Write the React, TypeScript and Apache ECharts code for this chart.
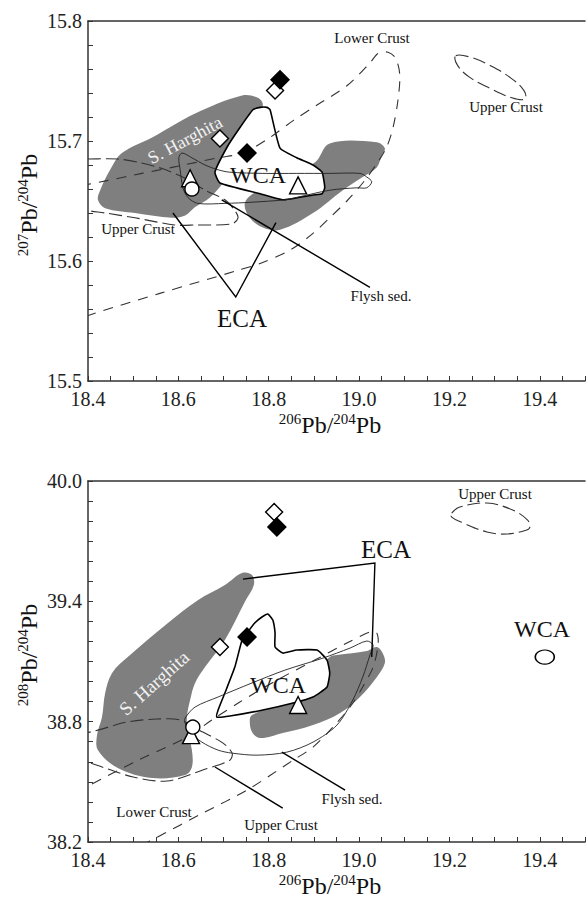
import React, { useEffect, useRef } from "react";
import * as echarts from "echarts";

const FONT = '"Liberation Serif", "Times New Roman", serif';

// ---------------- Axis settings ----------------
const xMin = 18.4;
const xMax = 19.5;
const xTickStep = 0.05;
const xLabelStep = 0.2;
const topYMin = 15.5;
const topYMax = 15.8;
const topYTickStep = 0.02;
const topYLabelStep = 0.1;
const botYMin = 38.2;
const botYMax = 40.0;
const botYTickStep = 0.1;
const botYLabelStep = 0.6;

// ---------------- Top panel (207Pb/204Pb) ----------------
const topSHarghita = [[18.741,15.738],[18.776,15.736],[18.787,15.730],[18.769,15.709],[18.736,15.688],[18.703,15.667],[18.670,15.653],[18.637,15.645],[18.615,15.638],[18.586,15.636],[18.504,15.640],[18.438,15.644],[18.422,15.651],[18.427,15.659],[18.449,15.676],[18.475,15.690],[18.542,15.703],[18.637,15.723]];
const topECA = [[18.935,15.698],[19.039,15.699],[19.057,15.694],[19.050,15.688],[19.039,15.678],[19.008,15.670],[18.964,15.659],[18.898,15.640],[18.825,15.626],[18.787,15.628],[18.758,15.636],[18.747,15.648],[18.769,15.657],[18.825,15.667],[18.902,15.682]];
const topWCA = [[18.765,15.726],[18.781,15.728],[18.796,15.728],[18.803,15.726],[18.825,15.694],[18.862,15.686],[18.898,15.680],[18.918,15.674],[18.924,15.661],[18.918,15.656],[18.898,15.655],[18.831,15.651],[18.781,15.656],[18.692,15.665],[18.681,15.674],[18.708,15.695],[18.736,15.711]];
const topFlysh = [[18.608,15.690],[18.630,15.686],[18.659,15.680],[18.688,15.676],[18.714,15.674],[18.787,15.673],[18.862,15.673],[18.935,15.673],[19.002,15.673],[19.017,15.670],[19.028,15.666],[19.017,15.661],[18.995,15.661],[18.935,15.659],[18.862,15.653],[18.836,15.651],[18.763,15.649],[18.703,15.648],[18.643,15.648],[18.621,15.653],[18.610,15.661],[18.604,15.676],[18.601,15.686]];
const topLowerCrust = [[18.360,15.548],[18.404,15.555],[18.559,15.573],[18.730,15.592],[18.781,15.598],[18.847,15.609],[18.898,15.623],[18.935,15.636],[18.973,15.650],[19.008,15.665],[19.039,15.681],[19.061,15.695],[19.075,15.711],[19.086,15.734],[19.090,15.755],[19.081,15.769],[19.064,15.774],[19.042,15.773],[19.024,15.765],[18.973,15.746],[18.907,15.730],[18.854,15.717],[18.803,15.703],[18.743,15.690],[18.688,15.686],[18.586,15.678],[18.519,15.673],[18.442,15.667],[18.360,15.661]];
const topUpperCrustL = [[18.360,15.685],[18.400,15.685],[18.466,15.685],[18.515,15.682],[18.564,15.677],[18.615,15.669],[18.659,15.659],[18.703,15.651],[18.725,15.642],[18.732,15.636],[18.719,15.631],[18.637,15.630],[18.592,15.630],[18.504,15.636],[18.438,15.640],[18.400,15.642],[18.360,15.645]];
const topUpperCrustR = [[19.214,15.771],[19.245,15.770],[19.289,15.763],[19.334,15.753],[19.365,15.742],[19.367,15.735],[19.338,15.736],[19.289,15.744],[19.245,15.753],[19.218,15.763]];
const topECALeader = [[18.588,15.640],[18.727,15.570],[18.816,15.632]];
const topFlyshLeader = [[18.696,15.651],[19.024,15.578]];
const topFilledDiamonds = [[18.825,15.751],[18.752,15.690]];
const topOpenDiamonds = [[18.814,15.742],[18.692,15.702]];
const topTriangles = [[18.626,15.669],[18.865,15.663]];
const topCircles = [[18.630,15.660]];

// ---------------- Bottom panel (208Pb/204Pb) ----------------
const botSHarghita = [[18.741,39.541],[18.763,39.531],[18.767,39.481],[18.747,39.397],[18.703,39.207],[18.659,39.072],[18.637,38.993],[18.626,38.908],[18.619,38.823],[18.621,38.743],[18.630,38.658],[18.630,38.574],[18.615,38.534],[18.542,38.519],[18.466,38.569],[18.422,38.658],[18.420,38.733],[18.431,38.823],[18.438,38.943],[18.453,39.042],[18.488,39.122],[18.577,39.292],[18.643,39.406],[18.703,39.481]];
const botECA = [[18.951,39.132],[19.017,39.152],[19.039,39.172],[19.052,39.142],[19.057,39.092],[19.039,39.022],[19.002,38.923],[18.958,38.843],[18.898,38.783],[18.831,38.743],[18.781,38.718],[18.763,38.748],[18.758,38.808],[18.763,38.833],[18.836,38.908],[18.891,38.983],[18.913,39.067],[18.935,39.122]];
const botWCA = [[18.769,39.292],[18.785,39.322],[18.798,39.337],[18.809,39.307],[18.814,39.242],[18.814,39.172],[18.831,39.142],[18.862,39.157],[18.907,39.157],[18.929,39.107],[18.935,39.042],[18.929,38.973],[18.898,38.923],[18.854,38.893],[18.787,38.858],[18.714,38.828],[18.685,38.823],[18.688,38.858],[18.703,38.943],[18.725,39.072],[18.741,39.207],[18.752,39.242]];
const botFlysh = [[18.615,38.818],[18.637,38.873],[18.688,38.923],[18.763,38.993],[18.836,39.057],[18.920,39.117],[18.980,39.167],[19.017,39.202],[19.031,39.182],[19.024,39.132],[19.008,39.022],[18.986,38.908],[18.951,38.783],[18.898,38.698],[18.840,38.648],[18.774,38.633],[18.719,38.643],[18.688,38.658],[18.652,38.698],[18.626,38.748],[18.615,38.793]];
const botLowerCrust = [[18.338,38.409],[18.404,38.484],[18.511,38.608],[18.619,38.723],[18.674,38.808],[18.736,38.898],[18.818,39.007],[18.902,39.107],[18.973,39.192],[19.024,39.247],[19.039,39.242],[19.042,39.182],[19.031,39.072],[19.008,38.973],[18.980,38.873],[18.942,38.773],[18.898,38.673],[18.854,38.608],[18.752,38.459],[18.654,38.344],[18.553,38.224],[18.515,38.179]];
const botUpperCrustL = [[18.338,38.733],[18.404,38.748],[18.486,38.798],[18.553,38.813],[18.604,38.808],[18.654,38.748],[18.699,38.693],[18.719,38.643],[18.714,38.608],[18.654,38.559],[18.575,38.504],[18.500,38.524],[18.404,38.594],[18.338,38.633]];
const botUpperCrustR = [[19.205,39.840],[19.223,39.870],[19.283,39.890],[19.340,39.855],[19.373,39.805],[19.378,39.771],[19.371,39.756],[19.327,39.736],[19.283,39.746],[19.230,39.791],[19.205,39.820]];
const botECALeader = [[18.743,39.511],[19.035,39.591],[19.028,39.122]];
const botUpperCrustLeader = [[18.681,38.574],[18.831,38.369]];
const botFlyshLeader = [[18.829,38.648],[18.969,38.459]];
const botOpenDiamonds = [[18.812,39.845],[18.692,39.172]];
const botFilledDiamonds = [[18.818,39.771],[18.752,39.222]];
const botTriangles = [[18.628,38.733],[18.865,38.883]];
const botCircles = [[18.632,38.773]];
const botWCACircle = [[19.411,39.122]];

// ---------------- helpers ----------------
const onStep = (v: number, base: number, step: number) => {
  const k = (v - base) / step;
  return Math.abs(k - Math.round(k)) < 1e-3;
};

const GRAY = "#7f7f7f";
const LINE = "#222";

function shape(pts: number[][], xi: number, yi: number, o: any) {
  return {
    type: "custom",
    xAxisIndex: xi,
    yAxisIndex: yi,
    clip: true,
    silent: true,
    z: o.z,
    data: pts,
    encode: { x: 0, y: 1 },
    renderItem: (params: any, api: any) => {
      if (params.dataIndex !== 0) return null;
      return {
        type: o.closed ? "polygon" : "polyline",
        shape: { points: pts.map((p) => api.coord(p)), smooth: o.smooth ?? 0 },
        style: {
          fill: o.fill ?? "none",
          stroke: o.stroke ?? "none",
          lineWidth: o.lw ?? 1,
          lineDash: o.dash ?? null,
        },
      };
    },
  };
}

function scatter(pts: number[][], xi: number, yi: number, symbol: string, size: any, filled: boolean) {
  return {
    type: "scatter",
    xAxisIndex: xi,
    yAxisIndex: yi,
    silent: true,
    z: 10,
    symbol,
    symbolSize: size,
    data: pts,
    itemStyle: {
      color: filled ? "#000" : "#fff",
      borderColor: "#000",
      borderWidth: 1.4,
      opacity: 1,
    },
  };
}

function panelSeries(xi: number, yi: number, d: any) {
  const dashLower = [10, 8];
  const dashUpper = [13, 5];
  const s: any[] = [
    shape(d.sh, xi, yi, { closed: true, fill: GRAY, smooth: 0.35, z: 1 }),
    shape(d.eca, xi, yi, { closed: true, fill: GRAY, smooth: 0.35, z: 1 }),
    shape(d.wca, xi, yi, { closed: true, fill: "#fff", stroke: "#000", lw: 1.6, smooth: 0.15, z: 2 }),
    shape(d.flysh, xi, yi, { closed: true, stroke: LINE, lw: 0.9, smooth: 0.3, z: 3 }),
    shape(d.lower, xi, yi, { closed: false, stroke: "#333", lw: 1.1, smooth: 0.3, dash: dashLower, z: 4 }),
    shape(d.upperL, xi, yi, { closed: false, stroke: "#333", lw: 1.1, smooth: 0.3, dash: dashUpper, z: 4 }),
    shape(d.upperR, xi, yi, { closed: true, stroke: "#333", lw: 1.1, smooth: 0.4, dash: dashUpper, z: 4 }),
  ];
  d.leaders.forEach((l: number[][]) =>
    s.push(shape(l, xi, yi, { closed: false, stroke: "#000", lw: 1.4, smooth: 0, z: 5 }))
  );
  s.push(scatter(d.od, xi, yi, "diamond", 17, false));
  s.push(scatter(d.fd, xi, yi, "diamond", 18, true));
  s.push(scatter(d.tri, xi, yi, "triangle", 17, false));
  s.push(scatter(d.circ, xi, yi, "circle", 14, false));
  if (d.extraCirc) s.push(scatter(d.extraCirc, xi, yi, "circle", [19, 14], false));
  return s;
}

function xAxes(gridIndex: number) {
  return [
    {
      gridIndex,
      type: "value",
      position: "bottom",
      min: xMin,
      max: xMax,
      interval: xTickStep,
      axisLine: { lineStyle: { color: "#333", width: 1.5 } },
      axisTick: { inside: true, length: 5, lineStyle: { color: "#333", width: 1 } },
      splitLine: { show: false },
      axisLabel: {
        margin: 8,
        fontFamily: FONT,
        fontSize: 20,
        color: "#222",
        formatter: (v: number) => (onStep(v, xMin, xLabelStep) ? v.toFixed(1) : ""),
      },
    },
    {
      gridIndex,
      type: "value",
      position: "top",
      min: xMin,
      max: xMax,
      axisLine: { show: true, lineStyle: { color: "#333", width: 1.5 } },
      axisTick: { show: false },
      axisLabel: { show: false },
      splitLine: { show: false },
    },
  ];
}

function yAxis(gridIndex: number, min: number, max: number, tick: number, lab: number) {
  return {
    gridIndex,
    type: "value",
    min,
    max,
    interval: tick,
    axisLine: { show: true, lineStyle: { color: "#333", width: 1.5 } },
    axisTick: { inside: true, length: 5, lineStyle: { color: "#333", width: 1 } },
    splitLine: { show: false },
    axisLabel: {
      margin: 6,
      fontFamily: FONT,
      fontSize: 20,
      color: "#222",
      formatter: (v: number) => (onStep(v, min, lab) ? v.toFixed(1) : ""),
    },
  };
}

const rich = {
  s: { fontSize: 15, fontFamily: FONT, fill: "#111", verticalAlign: "top", lineHeight: 16 },
  n: { fontSize: 24, fontFamily: FONT, fill: "#111", verticalAlign: "bottom", lineHeight: 26 },
};

function richText(x: number, y: number, iso: string, rotation = 0) {
  return {
    type: "text",
    x,
    y,
    rotation,
    z: 100,
    style: {
      text: `{s|${iso}}{n|Pb/}{s|204}{n|Pb}`,
      rich,
      align: "center",
      verticalAlign: "middle",
    },
  };
}

function label(text: string, x: number, y: number, size: number, rotation = 0, fill = "#111") {
  return {
    type: "text",
    x,
    y,
    rotation,
    z: 100,
    silent: true,
    style: { text, fontFamily: FONT, fontSize: size, fill, align: "center", verticalAlign: "middle" },
  };
}

export default function App() {
  const ref = useRef<HTMLDivElement>(null);
  useEffect(() => {
    if (!ref.current) return;
    const chart = echarts.init(ref.current, undefined, { renderer: "svg" });
    const option: any = {
      animation: false,
      backgroundColor: "#fff",
      textStyle: { fontFamily: FONT },
      grid: [
        { left: 88, top: 21, width: 497, height: 360 },
        { left: 88, top: 481, width: 497, height: 361 },
      ],
      xAxis: [...xAxes(0), ...xAxes(1)],
      yAxis: [
        yAxis(0, topYMin, topYMax, topYTickStep, topYLabelStep),
        yAxis(1, botYMin, botYMax, botYTickStep, botYLabelStep),
      ],
      series: [
        ...panelSeries(0, 0, {
          sh: topSHarghita, eca: topECA, wca: topWCA, flysh: topFlysh,
          lower: topLowerCrust, upperL: topUpperCrustL, upperR: topUpperCrustR,
          leaders: [topECALeader, topFlyshLeader],
          od: topOpenDiamonds, fd: topFilledDiamonds, tri: topTriangles, circ: topCircles,
        }),
        ...panelSeries(2, 1, {
          sh: botSHarghita, eca: botECA, wca: botWCA, flysh: botFlysh,
          lower: botLowerCrust, upperL: botUpperCrustL, upperR: botUpperCrustR,
          leaders: [botECALeader, botUpperCrustLeader, botFlyshLeader],
          od: botOpenDiamonds, fd: botFilledDiamonds, tri: botTriangles, circ: botCircles,
          extraCirc: botWCACircle,
        }),
      ],
      graphic: [
        richText(28, 205, "207", Math.PI / 2),
        richText(28, 655, "208", Math.PI / 2),
        richText(330, 424, "206"),
        richText(330, 885, "206"),
        // top panel labels
        label("Lower Crust", 372, 38, 15),
        label("Upper Crust", 506, 107, 15),
        label("S. Harghita", 185, 140, 18, 0.49, "#f2f2f2"),
        label("WCA", 258, 175, 24),
        label("Upper Crust", 138, 229, 15),
        label("Flysh sed.", 381, 296, 15),
        label("ECA", 242, 318, 25),
        // bottom panel labels
        label("Upper Crust", 495, 494, 15),
        label("ECA", 386, 549, 25),
        label("WCA", 542, 629, 24),
        label("WCA", 278, 685, 24),
        label("S. Harghita", 154, 683, 19, 0.73, "#f2f2f2"),
        label("Lower Crust", 154, 812, 15),
        label("Upper Crust", 281, 825, 15),
        label("Flysh sed.", 352, 799, 15),
      ],
    };
    chart.setOption(option);
    return () => chart.dispose();
  }, []);
  return (
    <div
      ref={ref}
      style={{ position: "fixed", left: 0, top: 0, width: 588, height: 907, background: "#fff" }}
    />
  );
}
